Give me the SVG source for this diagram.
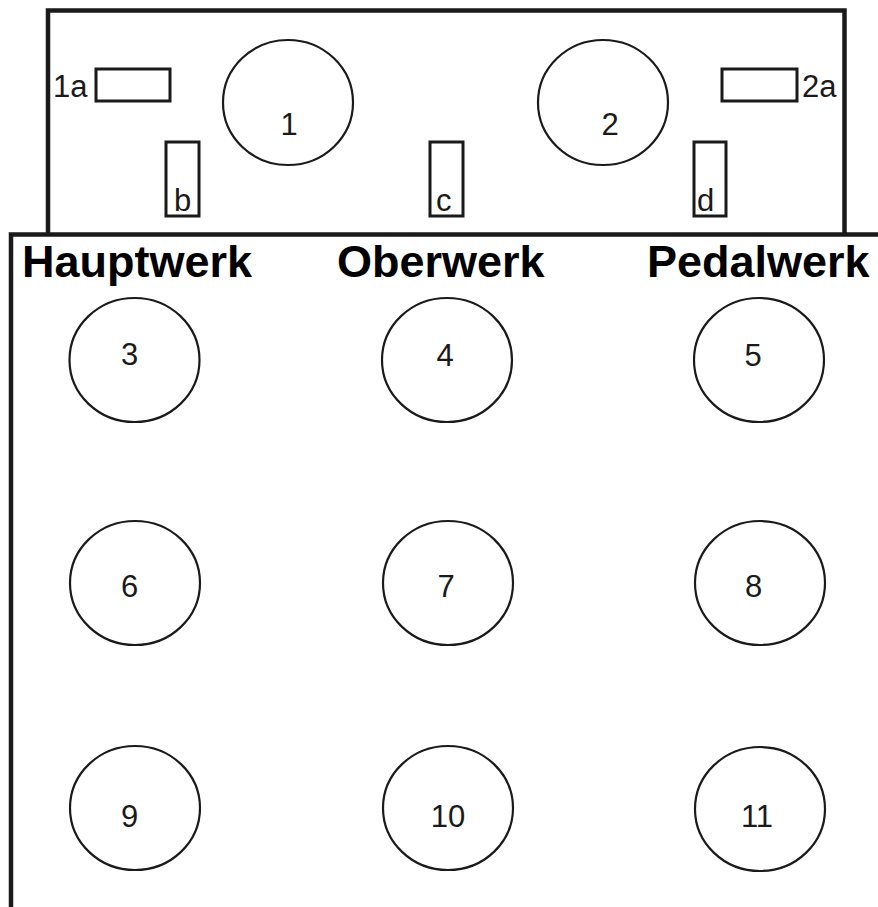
<svg xmlns="http://www.w3.org/2000/svg" width="878" height="907" viewBox="0 0 878 907">
<style>
.frame{fill:none;stroke:#1a1a1a;stroke-width:4.5}
.pipe{fill:none;stroke:#1a1a1a;stroke-width:2.2}
.box{fill:none;stroke:#1a1a1a;stroke-width:3}
.lbl{font-family:"Liberation Sans",Arial,sans-serif;font-size:31px;fill:#1a1a1a}
.mid{text-anchor:middle}
.title{font-family:"Liberation Sans",Arial,sans-serif;font-size:45px;font-weight:bold;fill:#000}
</style>
<rect width="878" height="907" fill="#fff"/>
<g id="frames">
<path class="frame" d="M48,234 V10.5 H844.5 V234"/>
<path class="frame" d="M11,907 V234.5 H878"/>
</g>
<g id="connectors"></g>
<g id="n1a"><rect class="box" x="96" y="69" width="74" height="32"/><text class="lbl" x="53" y="97">1a</text></g>
<g id="n1"><ellipse class="pipe" cx="288" cy="102.5" rx="65" ry="62.5"/><text class="lbl mid" x="289" y="135">1</text></g>
<g id="n2"><ellipse class="pipe" cx="603" cy="102.5" rx="65" ry="62.5"/><text class="lbl mid" x="610" y="135">2</text></g>
<g id="n2a"><rect class="box" x="722" y="69" width="75" height="32"/><text class="lbl" x="802" y="97">2a</text></g>
<g id="nb"><rect class="box" x="166" y="142" width="33" height="74"/><text class="lbl" x="174" y="211">b</text></g>
<g id="nc"><rect class="box" x="430" y="142" width="33" height="74"/><text class="lbl" x="436" y="211">c</text></g>
<g id="nd"><rect class="box" x="694" y="142" width="32" height="74"/><text class="lbl" x="697" y="211">d</text></g>
<g id="titles">
<text class="title" x="22" y="277">Hauptwerk</text>
<text class="title" x="337" y="277">Oberwerk</text>
<text class="title" x="647" y="277">Pedalwerk</text>
</g>
<g id="n3"><ellipse class="pipe" cx="134.5" cy="360" rx="65" ry="62"/><text class="lbl mid" x="129.5" y="365">3</text></g>
<g id="n4"><ellipse class="pipe" cx="447" cy="360" rx="65" ry="62"/><text class="lbl mid" x="445" y="366">4</text></g>
<g id="n5"><ellipse class="pipe" cx="759" cy="360" rx="65" ry="62"/><text class="lbl mid" x="753" y="366">5</text></g>
<g id="n6"><ellipse class="pipe" cx="135" cy="583" rx="65" ry="62"/><text class="lbl mid" x="129.5" y="597">6</text></g>
<g id="n7"><ellipse class="pipe" cx="448" cy="583" rx="65" ry="62"/><text class="lbl mid" x="446" y="597">7</text></g>
<g id="n8"><ellipse class="pipe" cx="760" cy="583" rx="65" ry="62"/><text class="lbl mid" x="753.5" y="597">8</text></g>
<g id="n9"><ellipse class="pipe" cx="135" cy="808" rx="65" ry="62"/><text class="lbl mid" x="129.5" y="827">9</text></g>
<g id="n10"><ellipse class="pipe" cx="448" cy="808" rx="65" ry="62"/><text class="lbl mid" x="448" y="827">10</text></g>
<g id="n11"><ellipse class="pipe" cx="760" cy="809" rx="65" ry="62"/><text class="lbl mid" x="757" y="827">11</text></g>
</svg>
